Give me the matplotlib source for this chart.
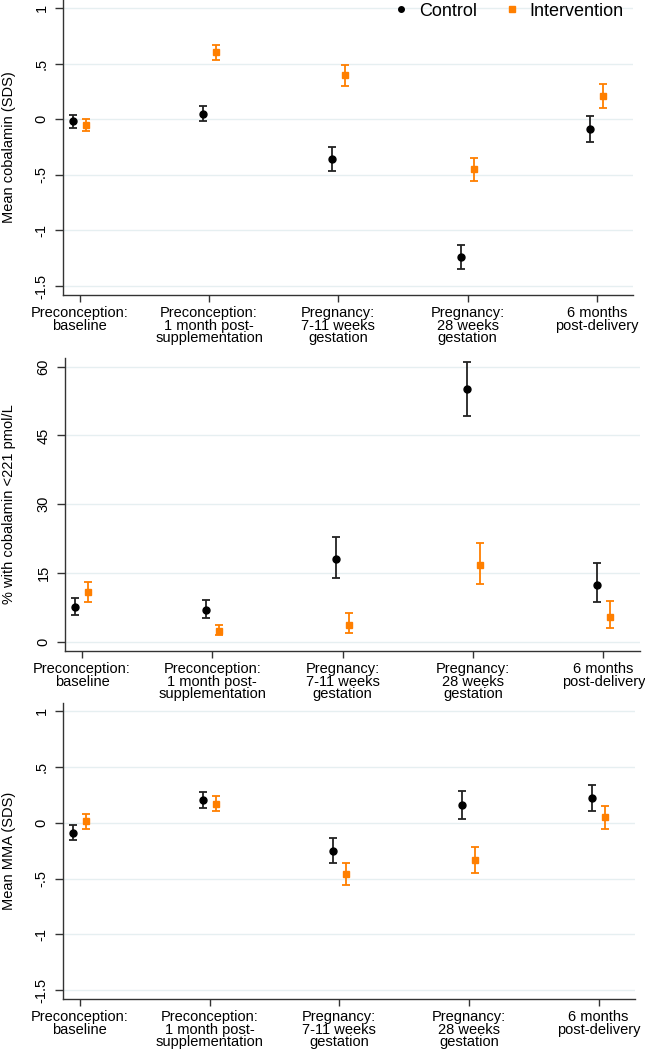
import matplotlib
matplotlib.use("Agg")
import matplotlib.pyplot as plt
from matplotlib.lines import Line2D
import numpy as np

plt.rcParams['font.family'] = ['Liberation Sans', 'DejaVu Sans']

categories = ["Preconception:\nbaseline",
              "Preconception:\n1 month post-\nsupplementation",
              "Pregnancy:\n7-11 weeks\ngestation",
              "Pregnancy:\n28 weeks\ngestation",
              "6 months\npost-delivery"]

# Panel 1: mean cobalamin (SDS)
cob_ctrl = [-0.02, 0.05, -0.36, -1.24, -0.09]
cob_ctrl_lo = [-0.08, -0.015, -0.47, -1.35, -0.205]
cob_ctrl_hi = [0.04, 0.117, -0.25, -1.135, 0.033]
cob_int = [-0.05, 0.60, 0.40, -0.45, 0.21]
cob_int_lo = [-0.11, 0.53, 0.30, -0.56, 0.105]
cob_int_hi = [0.005, 0.664, 0.49, -0.345, 0.32]

# Panel 2: % with cobalamin <221 pmol/L
pct_ctrl = [7.6, 7.0, 18.1, 55.1, 12.4]
pct_ctrl_lo = [5.8, 5.2, 13.9, 49.2, 8.6]
pct_ctrl_hi = [9.5, 9.1, 22.8, 61.0, 17.1]
pct_int = [10.8, 2.4, 3.6, 16.7, 5.4]
pct_int_lo = [8.7, 1.5, 1.9, 12.6, 3.0]
pct_int_hi = [13.0, 3.7, 6.3, 21.5, 8.8]

# Panel 3: mean MMA (SDS)
mma_ctrl = [-0.09, 0.20, -0.25, 0.155, 0.22]
mma_ctrl_lo = [-0.155, 0.134, -0.36, 0.033, 0.10]
mma_ctrl_hi = [-0.02, 0.274, -0.137, 0.286, 0.34]
mma_int = [0.01, 0.17, -0.46, -0.33, 0.05]
mma_int_lo = [-0.06, 0.10, -0.56, -0.452, -0.056]
mma_int_hi = [0.075, 0.235, -0.357, -0.214, 0.149]

sds_ticks = [1, 0.5, 0, -0.5, -1, -1.5]
sds_ticklabels = ["1", ".5", "0", "-.5", "-1", "-1.5"]
pct_ticks = [0, 15, 30, 45, 60]
pct_ticklabels = ["0", "15", "30", "45", "60"]

ORANGE = '#ff7f00'
BLACK = '#000000'
GRID = '#e6eff1'
FS = 10.5

W, H = 645, 1050
fig = plt.figure(figsize=(W / 100, H / 100), dpi=100)


def make_ax(left, right, top, bottom):
    return fig.add_axes([left / W, 1 - bottom / H, (right - left) / W, (bottom - top) / H])


def draw(ax, ctrl, clo, chi, itv, ilo, ihi, ticks, ticklabels, ylim, ylabel):
    x = np.arange(1, len(categories) + 1)
    ctrl = np.array(ctrl); itv = np.array(itv)
    yerr_c = [ctrl - np.array(clo), np.array(chi) - ctrl]
    yerr_i = [itv - np.array(ilo), np.array(ihi) - itv]
    ax.errorbar(x - 0.05, ctrl, yerr=yerr_c, fmt='o', color=BLACK, ecolor='#222222',
                elinewidth=1.3, capsize=3.2, capthick=1.3, markersize=5, zorder=3)
    ax.errorbar(x + 0.05, itv, yerr=yerr_i, fmt='s', color=ORANGE, ecolor=ORANGE,
                elinewidth=1.3, capsize=3.2, capthick=1.3, markersize=4.5, zorder=3)
    ax.set_xlim(0.87, 5.28)
    ax.set_ylim(*ylim)
    ax.set_yticks(ticks)
    ax.set_yticklabels(ticklabels, fontsize=FS)
    for lab in ax.get_yticklabels():
        lab.set_rotation(90)
        lab.set_rotation_mode('anchor')
        lab.set_ha('center')
        lab.set_va('bottom')
    ax.set_xticks(x)
    ax.set_xticklabels(categories, fontsize=FS, linespacing=0.88)
    for t in ticks:
        ax.axhline(t, color=GRID, lw=1.0, zorder=0)
    for s in ['top', 'right']:
        ax.spines[s].set_visible(False)
    for s in ['left', 'bottom']:
        ax.spines[s].set_color('#333333')
        ax.spines[s].set_linewidth(1.0)
    ax.tick_params(axis='x', length=5, width=1.0, color='#333333', pad=3)
    ax.tick_params(axis='y', length=6, width=1.0, color='#333333', pad=4.5)
    ax.set_ylabel(ylabel, fontsize=FS)
    ax.yaxis.label.set_va('center')
    pos = ax.get_position()
    left_px = pos.x0 * W
    width_px = pos.width * W
    ax.yaxis.set_label_coords(-(left_px - 9) / width_px, 0.5)


ax1 = make_ax(63, 633, 0, 295)
draw(ax1, cob_ctrl, cob_ctrl_lo, cob_ctrl_hi, cob_int, cob_int_lo, cob_int_hi,
     sds_ticks, sds_ticklabels, (-1.581, 1.072), "Mean cobalamin (SDS)")

ax2 = make_ax(65, 640, 358, 651)
draw(ax2, pct_ctrl, pct_ctrl_lo, pct_ctrl_hi, pct_int, pct_int_lo, pct_int_hi,
     pct_ticks, pct_ticklabels, (-2.0, 61.9), "% with cobalamin <221 pmol/L")

ax3 = make_ax(63, 635, 703, 999)
draw(ax3, mma_ctrl, mma_ctrl_lo, mma_ctrl_hi, mma_int, mma_int_lo, mma_int_hi,
     sds_ticks, sds_ticklabels, (-1.577, 1.069), "Mean MMA (SDS)")

handles = [Line2D([], [], marker='o', color=BLACK, linestyle='none', markersize=4),
           Line2D([], [], marker='s', color=ORANGE, linestyle='none', markersize=4.5)]
fig.legend(handles, ["Control", "Intervention"], loc='center', ncol=2,
           bbox_to_anchor=(508 / W, 1 - 11 / H), frameon=False, fontsize=13,
           handletextpad=0.5, columnspacing=1.4, handlelength=1.0)

fig.savefig("out.png", dpi=100)
